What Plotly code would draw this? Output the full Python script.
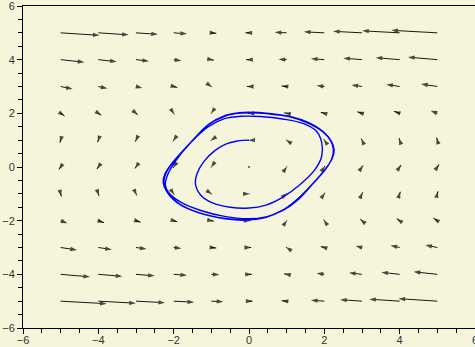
import plotly.graph_objects as go

# Grid of the vector field (columns = x, rows = y from top to bottom)
grid_x = [-5, -4, -3, -2, -1, 0, 1, 2, 3, 4, 5]
grid_y = [5, 4, 3, 2, 1, 0, -1, -2, -3, -4, -5]

# Field components (rows follow grid_y, columns follow grid_x)
U = [
    [55, 43, 31, 19, 7, -5, -17, -29, -41, -53, -65],
    [33.5, 26, 18.5, 11, 3.5, -4, -11.5, -19, -26.5, -34, -41.5],
    [17, 13, 9, 5, 1, -3, -7, -11, -15, -19, -23],
    [5.5, 4, 2.5, 1, -0.5, -2, -3.5, -5, -6.5, -8, -9.5],
    [-1, -1, -1, -1, -1, -1, -1, -1, -1, -1, -1],
    [-2.5, -2, -1.5, -1, -0.5, 0, 0.5, 1, 1.5, 2, 2.5],
    [1, 1, 1, 1, 1, 1, 1, 1, 1, 1, 1],
    [9.5, 8, 6.5, 5, 3.5, 2, 0.5, -1, -2.5, -4, -5.5],
    [23, 19, 15, 11, 7, 3, -1, -5, -9, -13, -17],
    [41.5, 34, 26.5, 19, 11.5, 4, -3.5, -11, -18.5, -26, -33.5],
    [65, 53, 41, 29, 17, 5, -7, -19, -31, -43, -55],
]
V = [
    [-5, -4, -3, -2, -1, 0, 1, 2, 3, 4, 5],
    [-5, -4, -3, -2, -1, 0, 1, 2, 3, 4, 5],
    [-5, -4, -3, -2, -1, 0, 1, 2, 3, 4, 5],
    [-5, -4, -3, -2, -1, 0, 1, 2, 3, 4, 5],
    [-5, -4, -3, -2, -1, 0, 1, 2, 3, 4, 5],
    [-5, -4, -3, -2, -1, 0, 1, 2, 3, 4, 5],
    [-5, -4, -3, -2, -1, 0, 1, 2, 3, 4, 5],
    [-5, -4, -3, -2, -1, 0, 1, 2, 3, 4, 5],
    [-5, -4, -3, -2, -1, 0, 1, 2, 3, 4, 5],
    [-5, -4, -3, -2, -1, 0, 1, 2, 3, 4, 5],
    [-5, -4, -3, -2, -1, 0, 1, 2, 3, 4, 5],
]
ARROW_SCALE = 0.0188

# Tick labels
tick_values = [-6, -4, -2, 0, 2, 4, 6]
tick_labels = ["\u22126", "\u22124", "\u22122", "0", "2", "4", "6"]

# Trajectory (spiral converging to the limit cycle)
traj_x = [0.00, -0.30, -0.60, -0.90, -1.20, -1.38, -1.42, -1.28, -0.95, -0.50,
          0.00, 0.45, 0.90, 1.35, 1.75, 1.93, 1.93, 1.78, 1.45, 0.90,
          0.30, -0.20, -0.65, -1.08, -1.55, -1.95, -2.17, -2.22, -2.12, -1.80,
          -1.28, -0.65, -0.05, 0.45, 0.90, 1.28, 1.70, 2.05, 2.20, 2.24,
          2.17, 1.95, 1.60, 1.08, 0.53, 0.00, -0.28, -0.63, -1.08, -1.52,
          -2.00, -2.21, -2.26, -2.17, -1.86, -1.33, -0.63, -0.08, 0.44, 0.88,
          1.25, 1.69, 2.04, 2.21, 2.26, 2.18, 1.96, 1.60, 1.07, 0.53,
          0.00, -0.27, -0.63, -1.08, -1.52, -2.01, -2.23, -2.28, -2.18, -1.87,
          -1.33, -0.63, -0.08, 0.44, 0.88, 1.25, 1.69, 2.04]
traj_y = [1.00, 0.97, 0.86, 0.62, 0.20, -0.25, -0.65, -1.05, -1.35, -1.50,
          -1.53, -1.42, -1.12, -0.66, -0.10, 0.40, 0.92, 1.35, 1.62, 1.79,
          1.88, 1.89, 1.80, 1.50, 0.90, 0.22, -0.33, -0.68, -0.98, -1.32,
          -1.62, -1.84, -1.93, -1.86, -1.62, -1.25, -0.62, -0.05, 0.32, 0.65,
          0.97, 1.32, 1.62, 1.87, 1.98, 2.02, 2.00, 1.90, 1.57, 0.95,
          0.20, -0.25, -0.56, -0.92, -1.36, -1.70, -1.92, -1.97, -1.87, -1.62,
          -1.24, -0.62, -0.05, 0.32, 0.64, 0.97, 1.33, 1.64, 1.89, 2.00,
          2.04, 2.02, 1.92, 1.58, 0.96, 0.20, -0.25, -0.56, -0.93, -1.37,
          -1.71, -1.93, -1.98, -1.88, -1.63, -1.25, -0.63, -0.06]

# Build arrow segments from the data
ax_, ay_, sizes, symbols = [], [], [], []
for i, yv in enumerate(grid_y):
    for j, xv in enumerate(grid_x):
        u = U[i][j] * ARROW_SCALE
        v = V[i][j] * ARROW_SCALE
        zero = (U[i][j] == 0 and V[i][j] == 0)
        ax_ += [xv, xv + u, None]
        ay_ += [yv, yv + v, None]
        sizes += [0, 2 if zero else 7, 0]
        symbols += ["circle", "circle" if zero else "arrow", "circle"]

fig = go.Figure()
fig.add_trace(go.Scatter(
    x=ax_, y=ay_, mode="lines+markers",
    line=dict(color="#1a1a1a", width=1),
    marker=dict(symbol=symbols, size=sizes, color="#000000",
                angleref="previous", line=dict(width=0)),
    hoverinfo="skip", showlegend=False,
))
fig.add_trace(go.Scatter(
    x=traj_x, y=traj_y, mode="lines",
    line=dict(color="#0000ff", width=1.4, shape="spline", smoothing=1),
    hoverinfo="skip", showlegend=False,
))

bg = "#f5f5dc"
tickfont = dict(family="Liberation Sans, Arial, sans-serif", size=11, color="#333333")
common = dict(
    range=[-6, 6], tickmode="array", tickvals=tick_values, ticktext=tick_labels,
    ticks="outside", ticklen=5, tickwidth=1, tickcolor="#000000",
    showline=True, linecolor="#000000", linewidth=1,
    showgrid=False, zeroline=False, tickfont=tickfont, automargin=False,
    ticklabeloverflow="allow",
    minor=dict(dtick=0.5, tick0=0, ticks="outside", ticklen=4,
               tickcolor="#000000", showgrid=False),
)
fig.update_layout(
    width=475, height=347,
    margin=dict(l=23, r=0, t=6, b=19, pad=0),
    paper_bgcolor=bg, plot_bgcolor=bg,
    showlegend=False,
)
fig.update_xaxes(mirror=True, ticklabelstandoff=-3, **common)
fig.update_yaxes(**common)

fig.write_html("out.html",
               config={"displayModeBar": False},
               post_script="document.body.style.margin='0';document.body.style.background='#f5f5dc';")
